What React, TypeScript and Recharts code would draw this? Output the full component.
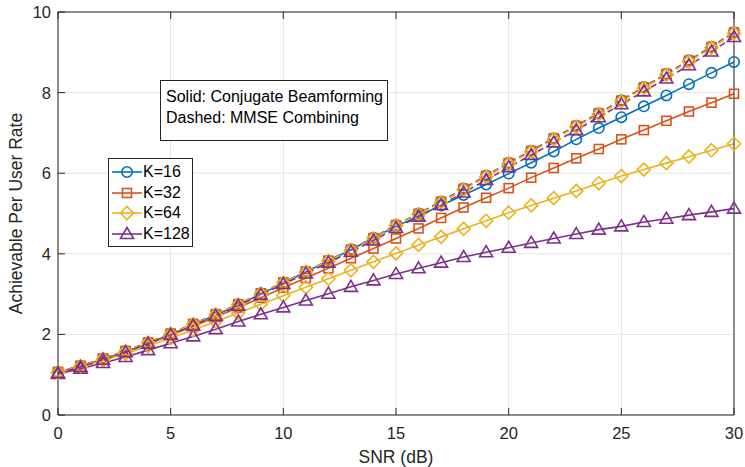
import { LineChart, Line, XAxis, YAxis, CartesianGrid } from 'recharts';

const snr = [0, 1, 2, 3, 4, 5, 6, 7, 8, 9, 10, 11, 12, 13, 14, 15, 16, 17, 18, 19, 20, 21, 22, 23, 24, 25, 26, 27, 28, 29, 30];

// Solid: conjugate beamforming
const cbK16 = [1.05, 1.2, 1.38, 1.57, 1.78, 2.0, 2.24, 2.48, 2.73, 3.0, 3.27, 3.55, 3.82, 4.1, 4.39, 4.68, 4.94, 5.2, 5.46, 5.72, 5.99, 6.26, 6.54, 6.84, 7.12, 7.39, 7.66, 7.93, 8.21, 8.49, 8.76];
const cbK32 = [1.06, 1.21, 1.39, 1.57, 1.77, 1.98, 2.2, 2.43, 2.67, 2.91, 3.16, 3.4, 3.64, 3.89, 4.13, 4.38, 4.63, 4.89, 5.15, 5.39, 5.63, 5.89, 6.13, 6.37, 6.6, 6.84, 7.07, 7.3, 7.53, 7.75, 7.97];
const cbK64 = [1.05, 1.19, 1.35, 1.52, 1.71, 1.91, 2.11, 2.32, 2.53, 2.75, 2.96, 3.17, 3.38, 3.59, 3.8, 4.01, 4.22, 4.42, 4.62, 4.82, 5.02, 5.2, 5.38, 5.56, 5.75, 5.93, 6.09, 6.25, 6.41, 6.57, 6.73];
const cbK128 = [1.02, 1.15, 1.29, 1.44, 1.61, 1.78, 1.95, 2.13, 2.32, 2.5, 2.67, 2.84, 3.01, 3.18, 3.34, 3.5, 3.64, 3.78, 3.92, 4.04, 4.15, 4.27, 4.38, 4.49, 4.6, 4.68, 4.79, 4.87, 4.96, 5.04, 5.12];

// Dashed: MMSE combining
const mmseK16 = [1.07, 1.22, 1.4, 1.59, 1.8, 2.02, 2.26, 2.5, 2.75, 3.02, 3.29, 3.56, 3.83, 4.11, 4.4, 4.72, 5.0, 5.3, 5.62, 5.94, 6.26, 6.56, 6.87, 7.18, 7.49, 7.81, 8.14, 8.47, 8.8, 9.14, 9.5];
const mmseK32 = [1.07, 1.22, 1.4, 1.59, 1.8, 2.02, 2.26, 2.5, 2.75, 3.02, 3.29, 3.56, 3.83, 4.1, 4.39, 4.71, 4.99, 5.29, 5.61, 5.93, 6.25, 6.55, 6.86, 7.17, 7.48, 7.8, 8.13, 8.46, 8.79, 9.13, 9.49];
const mmseK64 = [1.06, 1.21, 1.39, 1.58, 1.79, 2.01, 2.25, 2.49, 2.74, 3.01, 3.28, 3.55, 3.82, 4.09, 4.38, 4.7, 4.98, 5.27, 5.59, 5.91, 6.23, 6.53, 6.84, 7.15, 7.46, 7.78, 8.11, 8.44, 8.77, 9.11, 9.47];
const mmseK128 = [1.04, 1.19, 1.37, 1.56, 1.77, 1.99, 2.22, 2.46, 2.71, 2.98, 3.25, 3.51, 3.78, 4.05, 4.33, 4.64, 4.92, 5.21, 5.52, 5.83, 6.15, 6.45, 6.76, 7.07, 7.39, 7.71, 8.03, 8.35, 8.68, 9.02, 9.38];

const xTicks = [0, 5, 10, 15, 20, 25, 30];
const yTicks = [0, 2, 4, 6, 8, 10];

const FONT = '"Liberation Sans", Arial, sans-serif';
const AXIS = '#262626';

type Shape = 'circle' | 'square' | 'diamond' | 'triangle';

const series: { name: string; shape: Shape; color: string }[] = [
  { name: 'K=16', shape: 'circle', color: '#0072BD' },
  { name: 'K=32', shape: 'square', color: '#D95319' },
  { name: 'K=64', shape: 'diamond', color: '#EDB120' },
  { name: 'K=128', shape: 'triangle', color: '#7E2F8E' },
];

const data = snr.map((x, i) => ({
  snr: x,
  cb16: cbK16[i],
  cb32: cbK32[i],
  cb64: cbK64[i],
  cb128: cbK128[i],
  mm16: mmseK16[i],
  mm32: mmseK32[i],
  mm64: mmseK64[i],
  mm128: mmseK128[i],
}));

function Marker({ cx, cy, shape, color }: { cx: number; cy: number; shape: Shape; color: string }) {
  const common = { fill: 'none', stroke: color, strokeWidth: 1.6 };
  if (shape === 'circle') return <circle cx={cx} cy={cy} r={5.2} {...common} />;
  if (shape === 'square') return <rect x={cx - 4.5} y={cy - 4.5} width={9} height={9} {...common} />;
  if (shape === 'diamond')
    return <polygon points={`${cx},${cy - 6.5} ${cx + 6.5},${cy} ${cx},${cy + 6.5} ${cx - 6.5},${cy}`} {...common} />;
  return <polygon points={`${cx},${cy - 6.5} ${cx + 6.5},${cy + 4.5} ${cx - 6.5},${cy + 4.5}`} {...common} />;
}

const makeDot = (shape: Shape, color: string) => (p: any) => {
  if (p.cx == null || p.cy == null) return <g key={p.index} />;
  return (
    <g key={p.index}>
      <Marker cx={p.cx} cy={p.cy} shape={shape} color={color} />
    </g>
  );
};

const BottomTick = (p: any) => (
  <g>
    <line x1={p.x} x2={p.x} y1={p.y} y2={p.y - 7} stroke={AXIS} strokeWidth={1} />
    <text x={p.x} y={p.y + 24} textAnchor="middle" fill={AXIS} fontSize={16.5} fontFamily={FONT}>
      {p.payload.value}
    </text>
  </g>
);

const TopTick = (p: any) => (
  <line x1={p.x} x2={p.x} y1={p.y} y2={p.y + 7} stroke={AXIS} strokeWidth={1} />
);

const LeftTick = (p: any) => (
  <g>
    <line x1={p.x} x2={p.x + 7} y1={p.y} y2={p.y} stroke={AXIS} strokeWidth={1} />
    <text x={p.x - 7} y={p.y + 6} textAnchor="end" fill={AXIS} fontSize={16.5} fontFamily={FONT}>
      {p.payload.value}
    </text>
  </g>
);

const RightTick = (p: any) => (
  <line x1={p.x} x2={p.x - 7} y1={p.y} y2={p.y} stroke={AXIS} strokeWidth={1} />
);

function KLegend() {
  return (
    <div
      style={{
        position: 'absolute',
        left: 108,
        top: 158,
        width: 85,
        height: 89,
        boxSizing: 'border-box',
        border: '1px solid #262626',
        background: '#fff',
        padding: '3px 0 0 0',
        fontFamily: FONT,
        fontSize: 16,
        color: '#000',
      }}
    >
      {series.map((s) => (
        <div key={s.name} style={{ display: 'flex', alignItems: 'center', height: 20.5 }}>
          <svg width={32} height={16} style={{ marginLeft: 2, flex: 'none' }}>
            <line x1={1} x2={31} y1={8} y2={8} stroke={s.color} strokeWidth={1.6} />
            <Marker cx={16} cy={8} shape={s.shape} color={s.color} />
          </svg>
          <span>{s.name}</span>
        </div>
      ))}
    </div>
  );
}

export default function App() {
  return (
    <div style={{ position: 'absolute', left: 0, top: 0, width: 745, height: 467, background: '#fff' }}>
      <LineChart width={745} height={467} data={data} margin={{ top: 11, right: 10, bottom: 0, left: 0 }}>
        <CartesianGrid stroke="#e3e3e3" strokeWidth={1} />
        <XAxis
          dataKey="snr"
          type="number"
          domain={[0, 30]}
          ticks={xTicks}
          height={52}
          tickSize={0}
          tickMargin={0}
          tickLine={false}
          axisLine={{ stroke: AXIS }}
          tick={BottomTick}
          label={{ value: 'SNR (dB)', position: 'insideBottom', offset: 4, fill: AXIS, fontSize: 17.5, fontFamily: FONT }}
        />
        <XAxis
          xAxisId="top"
          dataKey="snr"
          type="number"
          orientation="top"
          domain={[0, 30]}
          ticks={xTicks}
          height={1}
          tickSize={0}
          tickMargin={0}
          tickLine={false}
          axisLine={{ stroke: AXIS }}
          tick={TopTick}
        />
        <YAxis
          type="number"
          domain={[0, 10]}
          ticks={yTicks}
          width={58}
          tickSize={0}
          tickMargin={0}
          tickLine={false}
          axisLine={{ stroke: AXIS }}
          tick={LeftTick}
          label={{
            value: 'Achievable Per User Rate',
            angle: -90,
            position: 'insideLeft',
            offset: 16,
            fill: AXIS,
            fontSize: 17.5,
            fontFamily: FONT,
            style: { textAnchor: 'middle' },
          }}
        />
        <YAxis
          yAxisId="right"
          type="number"
          orientation="right"
          domain={[0, 10]}
          ticks={yTicks}
          width={1}
          tickSize={0}
          tickMargin={0}
          tickLine={false}
          axisLine={{ stroke: AXIS }}
          tick={RightTick}
        />
        {series.map((s, i) => (
          <Line
            key={'cb' + s.name}
            dataKey={['cb16', 'cb32', 'cb64', 'cb128'][i]}
            name={s.name}
            stroke={s.color}
            strokeWidth={1.6}
            dot={makeDot(s.shape, s.color)}
            activeDot={false}
            isAnimationActive={false}
          />
        ))}
        {series.map((s, i) => (
          <Line
            key={'mm' + s.name}
            dataKey={['mm16', 'mm32', 'mm64', 'mm128'][i]}
            name={s.name + ' MMSE'}
            stroke={s.color}
            strokeWidth={1.6}
            strokeDasharray="6 4"
            dot={makeDot(s.shape, s.color)}
            activeDot={false}
            isAnimationActive={false}
          />
        ))}
      </LineChart>
      <KLegend />
      <div
        style={{
          position: 'absolute',
          left: 160,
          top: 80,
          width: 228,
          height: 61,
          border: '1px solid #262626',
          background: '#fff',
          fontFamily: FONT,
          fontSize: 16,
          color: '#000',
          boxSizing: 'border-box',
          padding: '5px 0 0 5px',
          lineHeight: '21px',
        }}
      >
        <div>Solid: Conjugate Beamforming</div>
        <div>Dashed: MMSE Combining</div>
      </div>
    </div>
  );
}
